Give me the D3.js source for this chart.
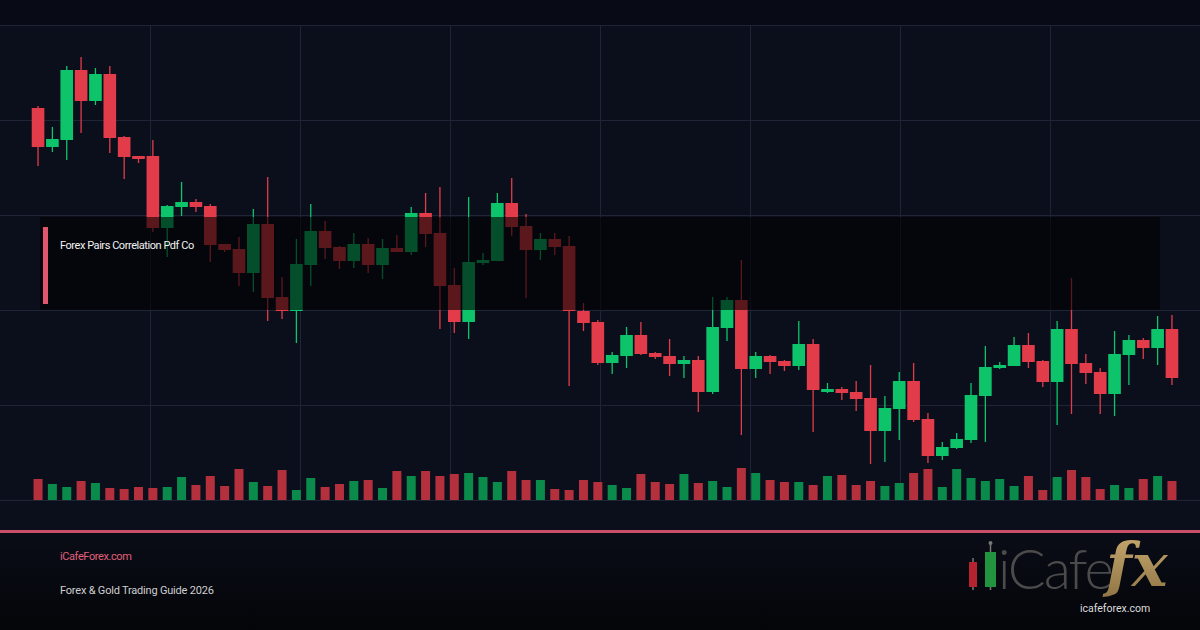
<!DOCTYPE html>
<html>
<head>
  <title></title>
  <style>
    body { margin: 0; background: #080b15; }
    svg { display: block; }
  </style>
</head>
<body>
  <svg width="1200" height="630"></svg>

  <script src="https://d3js.org/d3.v7.min.js"></script>
  <script>

  // candle values (price units, one per bar)
  var opens  = [392,353,360,430,399,426,363,344,344,272,293,298,294,256,251,227,276,203,189,235,
                269,253,239,256,235,252,248,287,267,215,178,237,239,297,274,250,261,254,189,178,
                137,144,165,147,144,136,140,108,172,200,131,144,139,134,156,108,111,108,102,69,
                91,119,81,44,52,60,104,132,134,155,139,118,171,137,128,106,145,160,152,171];
  var highs  = [394,373,434,443,432,434,364,344,360,295,318,301,296,256,263,291,323,223,261,296,
                279,254,267,262,261,265,293,307,313,232,303,247,307,322,286,267,267,264,197,180,
                148,173,178,148,161,144,144,203,203,240,148,145,140,179,161,117,113,119,135,104,
                128,137,87,58,67,117,154,138,163,167,140,179,222,146,132,169,165,162,184,185];
  var lows   = [334,348,340,367,395,347,321,337,268,243,284,288,238,248,214,208,179,181,157,214,
                241,231,232,227,221,248,245,253,171,167,161,235,239,264,202,240,245,114,169,135,
                126,132,145,141,124,122,88,106,159,65,122,126,129,130,68,107,100,89,36,38,
                60,78,37,40,51,57,58,131,134,132,113,75,86,116,86,84,115,141,135,115];
  var closes = [353,361,430,399,426,362,343,341,272,294,298,293,255,250,227,276,202,189,236,269,
                252,239,256,235,252,248,287,266,214,178,238,240,297,273,250,261,253,189,177,137,
                145,165,146,143,136,140,108,173,200,131,144,138,134,156,110,111,107,101,69,92,
                119,80,44,53,61,105,133,135,155,138,118,171,136,127,106,146,160,152,171,122];
  var volumes = [2100,1600,1300,1900,1700,1200,1100,1300,1200,1300,2300,1500,2400,1400,3100,1800,1400,3000,1000,2200,
                 1300,1600,1900,2000,1200,2900,2400,2900,2400,2600,2700,2300,1800,2900,2000,2000,1100,1000,2000,1800,
                 1500,1200,2600,1800,1600,2600,1700,1900,1300,3200,2700,2000,1800,1800,1500,2400,2500,1500,1900,1400,
                 1700,2700,3100,1300,3100,2200,1900,2100,1400,2400,1000,2300,3000,2300,1100,1500,1200,2100,2400,1900];

  var gridPrices = [0, 95, 190, 285, 380, 475];
  var gridCols = [1, 2, 3, 4, 5, 6, 7];

  var titleText = "Forex Pairs Correlation Pdf Co";
  var siteText = "iCafeForex.com";
  var guideText = "Forex & Gold Trading Guide 2026";

  var svg = d3.select("svg"),
      width = 1200,
      height = 630;

  var up = "#0ec46b", down = "#e23c4a",
      volUp = "#0a8a4b", volDown = "#b5303d";

  var candles = opens.map(function(o, i) {
    return { i: i, o: o, h: highs[i], l: lows[i], c: closes[i], v: volumes[i] };
  });

  var x = d3.scaleBand().domain(d3.range(candles.length)).range([30, 1180]).padding(0.12),
      y = d3.scaleLinear().domain([0, 475]).range([500, 25]),
      vy = d3.scaleLinear().domain([0, 10000]).range([500, 400]),
      gx = d3.scaleLinear().domain([0, 8]).range([0, 1200]);

  var defs = svg.append("defs");
  var fg = defs.append("linearGradient").attr("id", "foot").attr("x1", 0).attr("y1", 0).attr("x2", 0).attr("y2", 1);
  fg.append("stop").attr("offset", "0%").attr("stop-color", "#0a0d17");
  fg.append("stop").attr("offset", "100%").attr("stop-color", "#040509");
  var gold = defs.append("linearGradient").attr("id", "gold").attr("x1", 0).attr("y1", 0).attr("x2", 0).attr("y2", 1);
  gold.append("stop").attr("offset", "0%").attr("stop-color", "#c9ab70");
  gold.append("stop").attr("offset", "100%").attr("stop-color", "#8f7444");

  // backgrounds
  svg.append("rect").attr("width", width).attr("height", height).attr("fill", "#080b15");
  svg.append("rect").attr("x", 0).attr("y", y(475)).attr("width", width).attr("height", 530 - y(475)).attr("fill", "#0b0f1c");

  // grid
  svg.append("g").selectAll("line").data(gridPrices).enter().append("line")
      .attr("x1", 0).attr("x2", width)
      .attr("y1", function(d) { return y(d) + 0.5; })
      .attr("y2", function(d) { return y(d) + 0.5; })
      .attr("stroke", "#1e2537").attr("stroke-width", 1);

  svg.append("g").selectAll("line").data(gridCols).enter().append("line")
      .attr("x1", function(d) { return gx(d) + 0.5; })
      .attr("x2", function(d) { return gx(d) + 0.5; })
      .attr("y1", y(475)).attr("y2", y(0))
      .attr("stroke", "#1e2537").attr("stroke-width", 1);

  // volume
  var vw = 9;
  svg.append("g").selectAll("rect").data(candles).enter().append("rect")
      .attr("x", function(d) { return x(d.i) + x.bandwidth() / 2 - vw / 2; })
      .attr("y", function(d) { return vy(d.v); })
      .attr("width", vw)
      .attr("height", function(d) { return vy(0) - vy(d.v); })
      .attr("fill", function(d) { return d.c >= d.o ? volUp : volDown; });

  // candles
  var g = svg.append("g");
  g.selectAll("line").data(candles).enter().append("line")
      .attr("x1", function(d) { return x(d.i) + x.bandwidth() / 2; })
      .attr("x2", function(d) { return x(d.i) + x.bandwidth() / 2; })
      .attr("y1", function(d) { return y(d.h); })
      .attr("y2", function(d) { return y(d.l); })
      .attr("stroke", function(d) { return d.c >= d.o ? up : down; })
      .attr("stroke-width", 1.3);

  g.selectAll("rect").data(candles).enter().append("rect")
      .attr("x", function(d) { return x(d.i); })
      .attr("y", function(d) { return y(Math.max(d.o, d.c)); })
      .attr("width", x.bandwidth())
      .attr("height", function(d) { return Math.max(2, Math.abs(y(d.o) - y(d.c))); })
      .attr("fill", function(d) { return d.c >= d.o ? up : down; });

  // title box
  svg.append("rect").attr("x", 40).attr("y", 217).attr("width", 1120).attr("height", 93)
      .attr("fill", "#000").attr("fill-opacity", 0.6);
  svg.append("rect").attr("x", 43).attr("y", 227).attr("width", 5).attr("height", 77).attr("fill", "#e0566e");
  svg.append("text").attr("x", 60).attr("y", 249)
      .attr("font-family", "Roboto, sans-serif").attr("font-size", 11)
      .attr("letter-spacing", -0.45).attr("fill", "#f2f2f2")
      .text(titleText);

  // footer
  svg.append("rect").attr("x", 0).attr("y", 530).attr("width", width).attr("height", 3).attr("fill", "#c94f68");
  svg.append("rect").attr("x", 0).attr("y", 533).attr("width", width).attr("height", height - 533).attr("fill", "url(#foot)");
  svg.append("text").attr("x", 60).attr("y", 560)
      .attr("font-family", "Roboto, sans-serif").attr("font-size", 11)
      .attr("letter-spacing", -0.4).attr("fill", "#e0607a").text(siteText);
  svg.append("text").attr("x", 60).attr("y", 594)
      .attr("font-family", "Roboto, sans-serif").attr("font-size", 11)
      .attr("letter-spacing", -0.2).attr("fill", "#cfcfcf").text(guideText);

  // logo
  var logo = svg.append("g");
  logo.append("line").attr("x1", 973).attr("x2", 973).attr("y1", 558).attr("y2", 590).attr("stroke", "#777").attr("stroke-width", 1.5);
  logo.append("rect").attr("x", 969).attr("y", 562).attr("width", 8).attr("height", 25).attr("fill", "#b52330");
  logo.append("line").attr("x1", 990.5).attr("x2", 990.5).attr("y1", 544).attr("y2", 590).attr("stroke", "#777").attr("stroke-width", 1.5);
  logo.append("circle").attr("cx", 990.5).attr("cy", 543).attr("r", 2).attr("fill", "#777");
  logo.append("rect").attr("x", 985).attr("y", 552).attr("width", 11).attr("height", 35).attr("fill", "#22943f");
  logo.append("text").attr("x", 998).attr("y", 589)
      .attr("font-family", "Lato, 'Open Sans', sans-serif").attr("font-weight", 300)
      .attr("font-size", 56).attr("letter-spacing", -2).attr("fill", "#4b4b4b").text("iCafe");
  logo.append("text").attr("x", 1106).attr("y", 586)
      .attr("font-family", "'DejaVu Serif', serif").attr("font-weight", "bold").attr("font-style", "italic")
      .attr("font-size", 60).attr("fill", "url(#gold)").text("fx");
  logo.append("text").attr("x", 1080).attr("y", 612)
      .attr("font-family", "Roboto, sans-serif").attr("font-size", 10.5)
      .attr("fill", "#dddddd").text("icafeforex.com");

  </script>
</body>
</html>
